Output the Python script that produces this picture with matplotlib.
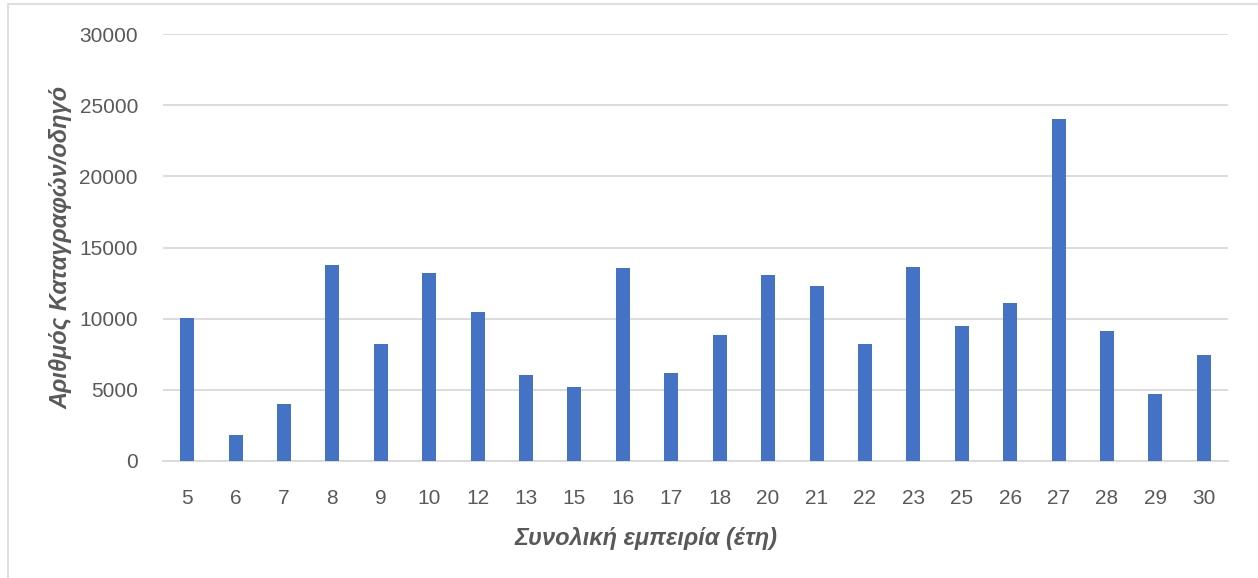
import numpy as np
import matplotlib.pyplot as plt
from matplotlib.patches import Rectangle

# Data
years = ['5', '6', '7', '8', '9', '10', '12', '13', '15', '16', '17',
         '18', '20', '21', '22', '23', '25', '26', '27', '28', '29', '30']
records = [10070, 1820, 3970, 13760, 8200, 13220, 10490, 6050, 5190, 13550, 6150,
           8880, 13080, 12310, 8200, 13650, 9510, 11080, 24000, 9160, 4740, 7430]

plt.rcParams['font.family'] = ['Liberation Sans', 'DejaVu Sans']

fig = plt.figure(figsize=(12.58, 5.78), dpi=100)
ax = fig.add_axes([163 / 1258, 1 - 461 / 578, (1228 - 163) / 1258, (461 - 34) / 578])

x = np.arange(len(years))
ax.bar(x, records, width=0.29, color='#4472C4', zorder=3)

ax.set_xlim(-0.5, len(years) - 0.5)
ax.set_ylim(0, 30000)
ax.set_yticks(np.arange(0, 30001, 5000))
ax.set_xticks(x)
ax.set_xticklabels(years)
ax.yaxis.grid(True, color='#d9d9d9', linewidth=1.3, zorder=0)
ax.set_axisbelow(True)
for s in ['top', 'right', 'left']:
    ax.spines[s].set_visible(False)
ax.spines['bottom'].set_color('#d9d9d9')
ax.spines['bottom'].set_linewidth(1.3)
ax.tick_params(axis='both', length=0, labelsize=15, colors='#595959')
ax.tick_params(axis='x', pad=20)
ax.tick_params(axis='y', pad=18)

ax.set_xlabel('Συνολική εμπειρία (έτη)', fontsize=17, fontweight='bold',
              fontstyle='italic', color='#595959')
ax.xaxis.set_label_coords((646 - 163) / 1065, -0.155)
ax.set_ylabel('Αριθμός Καταγραφών/οδηγό', fontsize=17, fontweight='bold',
              fontstyle='italic', color='#595959')
ax.yaxis.set_label_coords(-0.085, 0.5)

# chart border (cropped at left/top like the screenshot)
fig.patches.append(Rectangle((8 / 1258, -0.01), 1.2, 1 - 4 / 578 + 0.01,
                             transform=fig.transFigure, fill=False,
                             edgecolor='#d9d9d9', linewidth=1.2))

fig.savefig('out.png', dpi=100)
